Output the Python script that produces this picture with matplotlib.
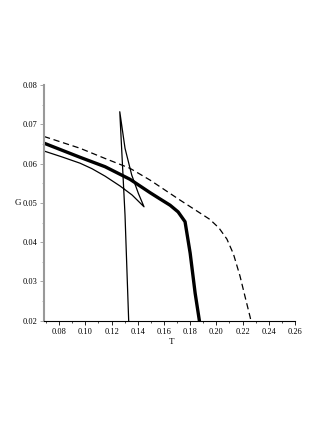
import matplotlib
matplotlib.use('Agg')
import matplotlib.pyplot as plt
from matplotlib.ticker import MultipleLocator, FormatStrFormatter

plt.rcParams['font.family'] = ['Liberation Serif', 'DejaVu Serif']

# thick curve
t_thick = [0.0685, 0.0960, 0.1151, 0.1341, 0.1494, 0.1570, 0.1647, 0.1708, 0.1761, 0.1800, 0.1838, 0.1875]
g_thick = [0.0652, 0.0616, 0.0592, 0.0560, 0.0526, 0.0510, 0.0494, 0.0477, 0.0452, 0.0372, 0.0270, 0.0190]

# dashed curve
t_dash = [0.0685, 0.0960, 0.1151, 0.1341, 0.1494, 0.1723, 0.1876, 0.1950, 0.2020, 0.2080, 0.2130, 0.2180, 0.2219, 0.2257, 0.2270]
g_dash = [0.0669, 0.0639, 0.0613, 0.0588, 0.0558, 0.0507, 0.0474, 0.0458, 0.0436, 0.0408, 0.0370, 0.0314, 0.0261, 0.0210, 0.0190]

# thin swallowtail curve
t_thin = [0.0685, 0.0822, 0.0960, 0.1051, 0.1151, 0.1265, 0.1357, 0.1448,
          0.1405, 0.1354, 0.1303, 0.1263, 0.1303, 0.1332]
g_thin = [0.0632, 0.0617, 0.0601, 0.0587, 0.0568, 0.0543, 0.0520, 0.0490,
          0.0524, 0.0571, 0.0639, 0.0732, 0.0469, 0.0190]

fig = plt.figure(figsize=(3.27, 4.23), dpi=100)
ax = fig.add_axes([0.1346, 0.2418, 0.7676, 0.5572])

ax.plot(t_thin, g_thin, color='black', lw=0.9)
ax.plot(t_dash, g_dash, color='black', lw=0.9, dashes=(5, 3))
ax.plot(t_thick, g_thick, color='black', lw=2.4)

ax.set_xlim(0.0685, 0.26)
ax.set_ylim(0.02, 0.08)

ax.spines['top'].set_visible(False)
ax.spines['right'].set_visible(False)
ax.spines['left'].set_color('#999999')
ax.spines['left'].set_linewidth(1.5)
ax.spines['bottom'].set_linewidth(0.8)

ax.xaxis.set_major_locator(MultipleLocator(0.02))
ax.xaxis.set_minor_locator(MultipleLocator(0.01))
ax.yaxis.set_major_locator(MultipleLocator(0.01))
ax.yaxis.set_minor_locator(MultipleLocator(0.005))
ax.xaxis.set_major_formatter(FormatStrFormatter('%.2f'))
ax.yaxis.set_major_formatter(FormatStrFormatter('%.2f'))

ax.tick_params(axis='x', which='major', length=3, width=0.6, labelsize=6, pad=2)
ax.tick_params(axis='x', which='minor', length=1.5, width=0.5)
ax.tick_params(axis='y', which='major', length=3, width=0.6, color='#999999', labelsize=6, pad=1.5)
ax.tick_params(axis='y', which='minor', length=1.5, width=0.5, color='#999999')

ax.set_xlabel('T', fontsize=6.5)
ax.xaxis.set_label_coords(0.51, -0.075)
ax.set_ylabel('G', fontsize=6.5, rotation=0, va='center', ha='center')
ax.yaxis.set_label_coords(-0.105, 0.5)

fig.savefig('out.png', dpi=100)
